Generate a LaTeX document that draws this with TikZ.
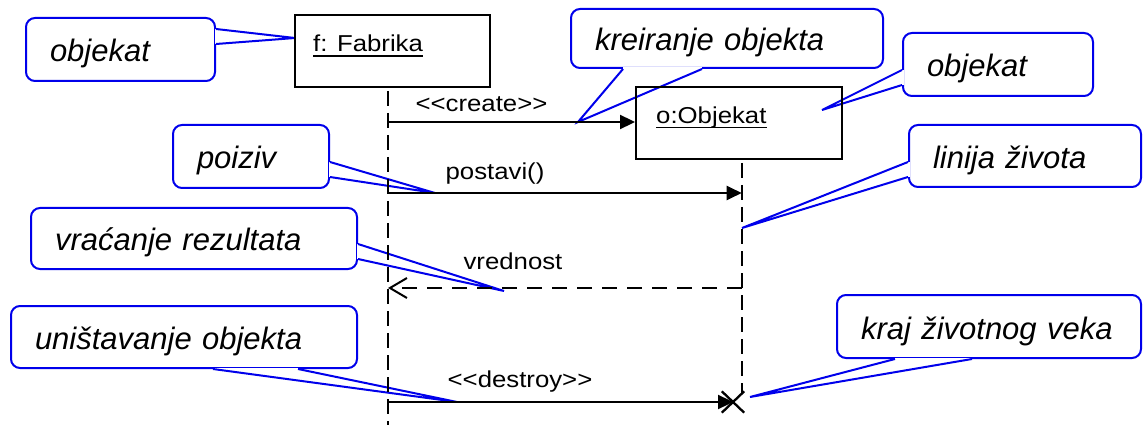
\documentclass[tikz,border=0pt]{standalone}
\usepackage{fontspec}
\setmainfont{Liberation Sans}
\usepackage{graphicx}
\usetikzlibrary{arrows.meta,calc,shapes.misc}

\definecolor{calloutblue}{RGB}{0,0,235}
\newcommand\stretchtxt[1]{\scalebox{1.12}[1]{#1}}
\newcommand\msgfont{\fontsize{23}{28}\selectfont}
\newcommand\notefont{\fontsize{31}{37}\selectfont\itshape}
% erase the border between the two base points, then draw the pointer
\newcommand\calloutptr[3]{%
  \draw[white, line width=3pt] #1 -- #2;
  \draw[pointer] #1 -- #3 -- #2;}

\begin{document}
\begin{tikzpicture}[x=1pt, y=-1pt,
  note/.style={draw=calloutblue, line width=2pt, fill=white, rounded corners=9pt,
    font=\notefont, align=left, inner xsep=24pt, inner ysep=0pt,
    text height=25pt, text depth=0pt},
  pointer/.style={draw=calloutblue, line width=2pt, line join=miter},
  objbox/.style={draw, line width=2pt, inner sep=0pt},
  nametext/.style={font=\msgfont, inner sep=0pt, anchor=base west},
  uline/.style={line width=1.6pt},
  lifeline/.style={line width=1.7pt, dash pattern=on 15pt off 7pt},
  msg/.style={line width=2.3pt, -{Triangle[length=15pt,width=14pt]}},
  ret/.style={line width=2.3pt, dash pattern=on 15pt off 10pt,
    -{Straight Barb[length=17pt,width=20pt,line width=2pt]}},
  msglabel/.style={font=\msgfont, inner sep=0pt, anchor=base},
  destroymark/.style={cross out, draw, line width=2.3pt, inner sep=0pt,
    minimum width=20pt, minimum height=19pt}]
\useasboundingbox (0,0) rectangle (1144,425);

% callouts
\node[note, text width=141pt, minimum height=63pt] (cA) at (120.5,49.5) {objekat};
\node[note, text width=264pt, minimum height=59pt] (cB) at (727,38.5) {kreiranje objekta};
\node[note, text width=142pt, minimum height=63pt] (cC) at (998,64.5) {objekat};
\node[note, text width=184pt, minimum height=62pt] (cD) at (1025,156) {linija života};
\node[note, text width=108pt, minimum height=63pt] (cE) at (251,156.5) {poiziv};
\node[note, text width=278pt, minimum height=61pt] (cF) at (194,238.5) {vraćanje rezultata};
\node[note, text width=298pt, minimum height=62pt] (cG) at (184,337) {uništavanje objekta};
\node[note, text width=256pt, minimum height=63pt] (cH) at (989,326.5) {kraj životnog veka};

% pointer tips
\coordinate (pA) at (295,38);
\coordinate (pB) at (578,122);
\coordinate (pC) at (822,110);
\coordinate (pD) at (742,228);
\coordinate (pE) at (435,193);
\coordinate (pF) at (504,291);
\coordinate (pG) at (457,402);
\coordinate (pH) at (750,397);

\calloutptr{($(cA.east)+(0,-20.5)$)}{($(cA.east)+(0,-5.5)$)}{(pA)}
\calloutptr{($(cB.south)+(-104,0)$)}{($(cB.south)+(-25,0)$)}{(pB)}
\calloutptr{($(cC.west)+(0,5.5)$)}{($(cC.west)+(0,20.5)$)}{(pC)}
\calloutptr{($(cD.west)+(0,6)$)}{($(cD.west)+(0,21)$)}{(pD)}
\calloutptr{($(cE.east)+(0,5.5)$)}{($(cE.east)+(0,20.5)$)}{(pE)}
\calloutptr{($(cF.east)+(0,5.5)$)}{($(cF.east)+(0,20.5)$)}{(pF)}
\calloutptr{($(cG.south)+(29,0)$)}{($(cG.south)+(114,0)$)}{(pG)}
\calloutptr{($(cH.south)+(-94,0)$)}{($(cH.south)+(-17,0)$)}{(pH)}

% objects
\node[objbox, minimum width=195pt, minimum height=72pt] (boxF) at (392.5,51) {};
\node[objbox, minimum width=206pt, minimum height=72pt] (boxO) at (739,123) {};
\node[nametext] (nF) at (313,52) {\stretchtxt{f: Fabrika}};
\node[nametext] (nO) at (656,123.5) {\stretchtxt{o:Objekat}};
\draw[uline] ([yshift=-4pt]nF.base west) -- ([yshift=-4pt]nF.base east);
\draw[uline] ([yshift=-4pt]nO.base west) -- ([yshift=-4pt]nO.base east);

% lifelines
\coordinate (lfTop) at ($(boxF.south)+(-4.5,3)$);
\coordinate (lfBot) at (388,425);
\coordinate (loTop) at ($(boxO.south)+(2.7,3)$);
\coordinate (loBot) at (741.7,393);
\draw[lifeline] (lfTop) -- (lfBot);
\draw[lifeline] (loTop) -- (loBot);

% end of life
\node[destroymark] (xo) at (733,402) {};

% messages
\coordinate (fC) at (388,122);
\coordinate (fP) at (388,193);
\coordinate (oV) at (741.7,288);
\coordinate (fD) at (388,402);
\draw[msg] (fC) -- (fC -| boxO.west);
\draw[msg] (fP) -- (fP -| loTop);
\draw[ret] (oV) -- (oV -| lfTop);
\draw[msg] (fD) -- (fD -| xo.center);

\node[msglabel] (lC) at (481.5,112) {\stretchtxt{<\kern0pt<create>\kern0pt>}};
\node[msglabel] (lP) at (495,179) {\stretchtxt{postavi()}};
\node[msglabel] (lV) at (513,269) {\stretchtxt{vrednost}};
\node[msglabel] (lD) at (520,387) {\stretchtxt{<\kern0pt<destroy>\kern0pt>}};
\end{tikzpicture}
\end{document}
